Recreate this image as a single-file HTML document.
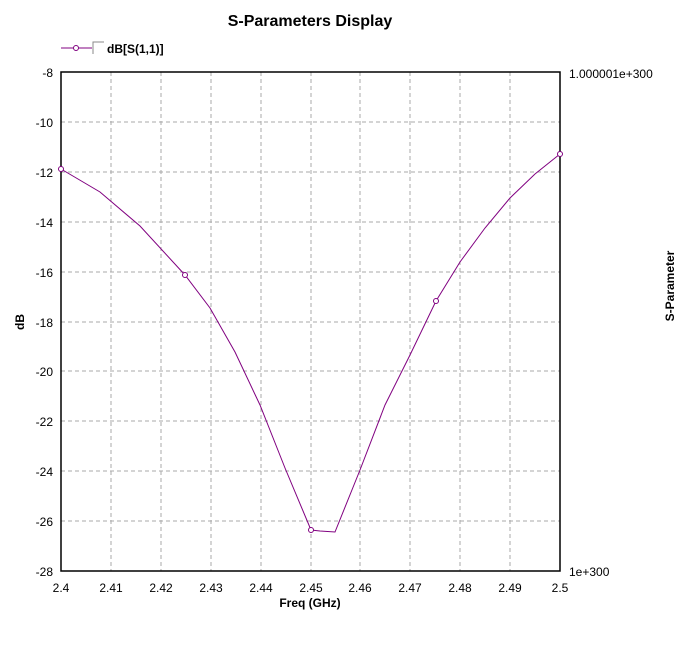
<!DOCTYPE html>
<html><head><style>
body{margin:0;background:#fff;}
svg text{font-family:"Liberation Sans",Arial,sans-serif;}
</style></head><body>
<svg width="697" height="656" xmlns="http://www.w3.org/2000/svg">
<rect width="697" height="656" fill="#fff"/>
<text x="310" y="26" font-size="16" font-weight="bold" text-anchor="middle">S-Parameters Display</text>
<line x1="61" y1="48" x2="92" y2="48" stroke="#800080"/>
<circle cx="76" cy="48" r="2.5" fill="#fff" stroke="#800080"/>
<path d="M93 54 V42 H104" stroke="#888" fill="none"/>
<text x="107" y="53" font-size="12" font-weight="bold">dB[S(1,1)]</text>
<g stroke="#aaa" stroke-dasharray="4,3" stroke-width="1">
<line x1="111" y1="72" x2="111" y2="571"/><line x1="161" y1="72" x2="161" y2="571"/>
<line x1="211" y1="72" x2="211" y2="571"/><line x1="261" y1="72" x2="261" y2="571"/>
<line x1="311" y1="72" x2="311" y2="571"/><line x1="360" y1="72" x2="360" y2="571"/>
<line x1="410" y1="72" x2="410" y2="571"/><line x1="460" y1="72" x2="460" y2="571"/>
<line x1="510" y1="72" x2="510" y2="571"/>
<line x1="61" y1="122" x2="560" y2="122"/><line x1="61" y1="172" x2="560" y2="172"/>
<line x1="61" y1="222" x2="560" y2="222"/><line x1="61" y1="272" x2="560" y2="272"/>
<line x1="61" y1="322" x2="560" y2="322"/><line x1="61" y1="371" x2="560" y2="371"/>
<line x1="61" y1="421" x2="560" y2="421"/><line x1="61" y1="471" x2="560" y2="471"/>
<line x1="61" y1="521" x2="560" y2="521"/>
</g>
<rect x="61" y="72" width="499" height="499" fill="none" stroke="#000" stroke-width="1.5"/>
<g font-size="12" text-anchor="end">
<text x="53" y="77">-8</text><text x="53" y="127">-10</text><text x="53" y="177">-12</text>
<text x="53" y="227">-14</text><text x="53" y="277">-16</text><text x="53" y="327">-18</text>
<text x="53" y="376">-20</text><text x="53" y="426">-22</text><text x="53" y="476">-24</text>
<text x="53" y="526">-26</text><text x="53" y="576">-28</text>
</g>
<g font-size="12" text-anchor="middle">
<text x="61" y="592">2.4</text><text x="111" y="592">2.41</text><text x="161" y="592">2.42</text>
<text x="211" y="592">2.43</text><text x="261" y="592">2.44</text><text x="311" y="592">2.45</text>
<text x="360" y="592">2.46</text><text x="410" y="592">2.47</text><text x="460" y="592">2.48</text>
<text x="510" y="592">2.49</text><text x="560" y="592">2.5</text>
</g>
<text x="569" y="78" font-size="12">1.000001e+300</text>
<text x="569" y="576" font-size="12">1e+300</text>
<text x="310" y="607" font-size="12" font-weight="bold" text-anchor="middle">Freq (GHz)</text>
<text transform="translate(24,322) rotate(-90)" font-size="12" font-weight="bold" text-anchor="middle">dB</text>
<text transform="translate(674,286) rotate(-90)" font-size="12" font-weight="bold" text-anchor="middle">S-Parameter</text>
<polyline fill="none" stroke="#800080" stroke-width="1" points="61,169 100,192 140,226 185,275 210,308 235,352 260,405 285,468 311,530 320,531 335,532 360,470 385,405 410,355 436,301 460,262 485,228 510,198 535,174 560,154"/>
<g fill="#fff" stroke="#800080">
<circle cx="61" cy="169" r="2.5"/><circle cx="185" cy="275" r="2.5"/><circle cx="311" cy="530" r="2.5"/>
<circle cx="436" cy="301" r="2.5"/><circle cx="560" cy="154" r="2.5"/>
</g>
</svg>
</body></html>
